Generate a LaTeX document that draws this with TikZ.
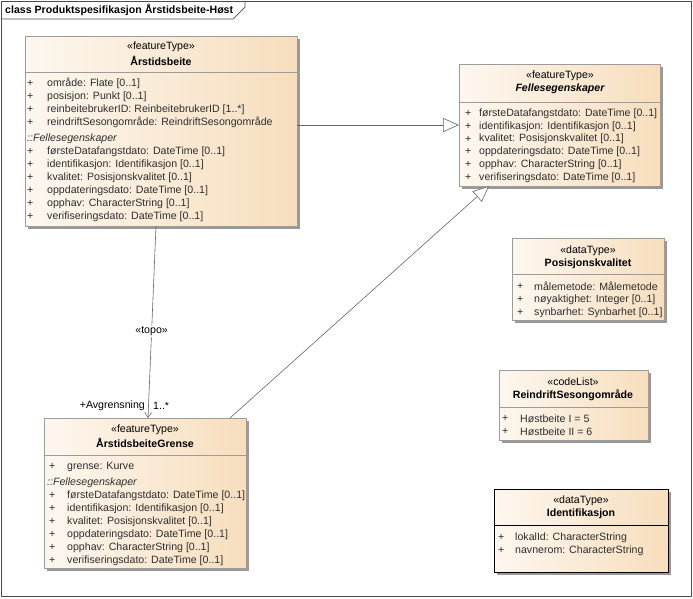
\documentclass[tikz,border=0pt]{standalone}
\usepackage{fontspec}
\setmainfont{Liberation Sans}
\usetikzlibrary{arrows.meta,shadows}

\definecolor{boxL}{HTML}{FDF7EF}
\definecolor{boxR}{HTML}{F7DEBD}
\definecolor{boxLine}{HTML}{9C9C9C}
\definecolor{attrText}{HTML}{2E2E2E}

\tikzset{
  classbox/.style={draw=boxLine, line width=0.7pt, left color=boxL, right color=boxR,
    anchor=north west, inner sep=0pt, outer sep=0pt,
    drop shadow={shadow xshift=3pt, shadow yshift=-3pt, fill=black!40, opacity=1}},
  attr/.style={anchor=west, inner sep=0pt, yshift=-1.5pt, text=attrText, font=\fontsize{10.6}{12}\selectfont},
  stereo/.style={inner sep=0pt, font=\fontsize{10.6}{12}\selectfont},
  cname/.style={inner sep=0pt, font=\fontsize{10.6}{12}\selectfont\bfseries},
  gen/.style={draw=black!60, line width=0.6pt, -{Triangle[open, length=16pt, width=14pt, fill=white]}},
  assoc/.style={draw=black!60, line width=0.6pt, -{Straight Barb[length=5pt, width=7pt]}}
}

\begin{document}
\begin{tikzpicture}[x=1pt, y=-1pt]

\useasboundingbox (0,0) rectangle (693,598);

% frame
\draw[black!70, line width=0.7pt] (1,1) rectangle (691,596);
\draw[black!70, line width=0.7pt] (1,19) -- (233,19) -- (245,7) -- (245,1);
\node[anchor=west, inner sep=0pt, font=\fontsize{10.6}{12}\selectfont\bfseries] (title) at (5,10)
  {class Produktspesifikasjon Årstidsbeite-Høst};

% Årstidsbeite
\node[classbox, minimum width=272pt, minimum height=190pt] (arst) at (25,36) {};
\draw[boxLine, line width=0.7pt] (25,72) -- (297,72);
\node[stereo] (arst-st) at (161,47) {«featureType»};
\node[cname] (arst-nm) at (161,61) {Årstidsbeite};
\foreach \t [count=\i] in {{område: Flate [0..1]}, {posisjon: Punkt [0..1]},
    {reinbeitebrukerID: ReinbeitebrukerID [1..*]}, {reindriftSesongområde: ReindriftSesongområde}} {
  \node[attr] (arst-p\i) at (27,{82+13*(\i-1)}) {+};
  \node[attr] (arst-a\i) at (47,{82+13*(\i-1)}) {\t};
}
\node[attr, font=\fontsize{10.6}{12}\selectfont\itshape] (arst-inh) at (27,137) {::Fellesegenskaper};
\foreach \t [count=\i] in {{førsteDatafangstdato: DateTime [0..1]}, {identifikasjon: Identifikasjon [0..1]},
    {kvalitet: Posisjonskvalitet [0..1]}, {oppdateringsdato: DateTime [0..1]},
    {opphav: CharacterString [0..1]}, {verifiseringsdato: DateTime [0..1]}} {
  \node[attr] (arst-q\i) at (27,{150+13*(\i-1)}) {+};
  \node[attr] (arst-b\i) at (47,{150+13*(\i-1)}) {\t};
}

% Fellesegenskaper
\node[classbox, minimum width=201pt, minimum height=122pt] (fell) at (459,64) {};
\draw[boxLine, line width=0.7pt] (459,102) -- (660,102);
\node[stereo] (fell-st) at (560,76) {«featureType»};
\node[cname, font=\fontsize{10.6}{12}\selectfont\bfseries\itshape] (fell-nm) at (560,89) {Fellesegenskaper};
\foreach \t [count=\i] in {{førsteDatafangstdato: DateTime [0..1]}, {identifikasjon: Identifikasjon [0..1]},
    {kvalitet: Posisjonskvalitet [0..1]}, {oppdateringsdato: DateTime [0..1]},
    {opphav: CharacterString [0..1]}, {verifiseringsdato: DateTime [0..1]}} {
  \node[attr] (fell-p\i) at (465,{112+12.8*(\i-1)}) {+};
  \node[attr] (fell-a\i) at (479,{112+12.8*(\i-1)}) {\t};
}

% Posisjonskvalitet
\node[classbox, minimum width=152pt, minimum height=82pt] (pos) at (512,238) {};
\draw[boxLine, line width=0.7pt] (512,274) -- (664,274);
\node[stereo] (pos-st) at (588,251) {«dataType»};
\node[cname] (pos-nm) at (588,264) {Posisjonskvalitet};
\foreach \t [count=\i] in {{målemetode: Målemetode}, {nøyaktighet: Integer [0..1]}, {synbarhet: Synbarhet [0..1]}} {
  \node[attr] (pos-p\i) at (517,{285+13*(\i-1)}) {+};
  \node[attr] (pos-a\i) at (534,{285+13*(\i-1)}) {\t};
}

% ReindriftSesongområde
\node[classbox, minimum width=149pt, minimum height=70pt] (reind) at (499,370) {};
\draw[boxLine, line width=0.7pt] (499,407) -- (648,407);
\node[stereo] (reind-st) at (573,382) {«codeList»};
\node[cname] (reind-nm) at (573,395) {ReindriftSesongområde};
\foreach \t [count=\i] in {{Høstbeite I = 5}, {Høstbeite II = 6}} {
  \node[attr] (reind-p\i) at (502,{417+13*(\i-1)}) {+};
  \node[attr] (reind-a\i) at (520,{417+13*(\i-1)}) {\t};
}

% Identifikasjon
\node[classbox, draw=black, line width=1pt, minimum width=174pt, minimum height=83pt] (ident) at (494,489) {};
\draw[black, line width=0.8pt] (494,525) -- (668,525);
\node[stereo] (ident-st) at (581,501) {«dataType»};
\node[cname] (ident-nm) at (581,514) {Identifikasjon};
\foreach \t [count=\i] in {{lokalId: CharacterString}, {navnerom: CharacterString}} {
  \node[attr] (ident-p\i) at (498,{536+13*(\i-1)}) {+};
  \node[attr] (ident-a\i) at (515,{536+13*(\i-1)}) {\t};
}

% ÅrstidsbeiteGrense
\node[classbox, minimum width=202pt, minimum height=150pt] (grense) at (44,418) {};
\draw[boxLine, line width=0.7pt] (44,455) -- (246,455);
\node[stereo] (grense-st) at (145,430) {«featureType»};
\node[cname] (grense-nm) at (145,443) {ÅrstidsbeiteGrense};
\node[attr] (grense-p0) at (49,465) {+};
\node[attr] (grense-a0) at (67,465) {grense: Kurve};
\node[attr, font=\fontsize{10.6}{12}\selectfont\itshape] (grense-inh) at (47,481) {::Fellesegenskaper};
\foreach \t [count=\i] in {{førsteDatafangstdato: DateTime [0..1]}, {identifikasjon: Identifikasjon [0..1]},
    {kvalitet: Posisjonskvalitet [0..1]}, {oppdateringsdato: DateTime [0..1]},
    {opphav: CharacterString [0..1]}, {verifiseringsdato: DateTime [0..1]}} {
  \node[attr] (grense-p\i) at (49,{494+13*(\i-1)}) {+};
  \node[attr] (grense-a\i) at (67,{494+13*(\i-1)}) {\t};
}

% connectors
\draw[gen] (arst.east |- fell.west) -- (fell.west);
\draw[gen] ([xshift=-16pt]grense.north east) -- ([xshift=30pt]fell.south west);
\draw[assoc] ([xshift=-5pt]arst.south) -- ([xshift=3pt]grense.north)
  node[pos=0.55, fill=white, inner sep=1pt, font=\fontsize{10.6}{12}\selectfont] (topo) {«topo»};
\node[anchor=east, inner sep=0pt, font=\fontsize{10.6}{12}\selectfont] (role) at (145,406) {+Avgrensning};
\node[anchor=west, inner sep=0pt, font=\fontsize{10.6}{12}\selectfont] (mult) at (153,406) {1..*};

\end{tikzpicture}
\end{document}
